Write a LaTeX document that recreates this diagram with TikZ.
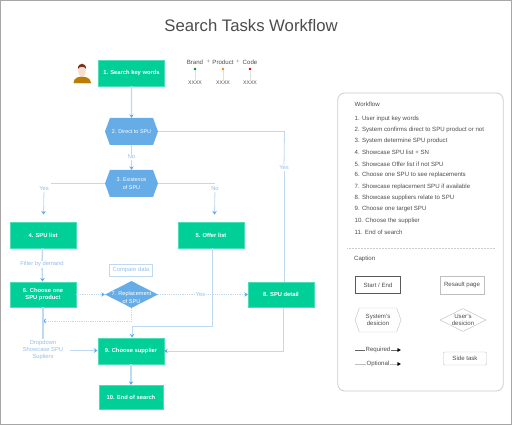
\documentclass[tikz,border=0pt]{standalone}
\usepackage{fontspec}
\setmainfont{Liberation Sans}
\usepackage{xcolor}
\usetikzlibrary{shapes.geometric,shapes.symbols,arrows.meta}
\definecolor{taskgreen}{RGB}{0,207,152}
\definecolor{hexblue}{RGB}{102,173,232}
\definecolor{lineblue}{RGB}{190,218,243}
\definecolor{tipblue}{RGB}{92,168,232}
\definecolor{labelblue}{RGB}{150,190,232}

\begin{document}
\begin{tikzpicture}[
    x=1pt, y=-1pt,
    task/.style={rectangle, fill=taskgreen, draw=taskgreen!70!white, line width=0.4pt, text=white,
        minimum width=66pt, minimum height=25.5pt, inner sep=0pt, align=center,
        font=\fontsize{5.8}{7.4}\selectfont\bfseries},
    hexbox/.style={signal, signal to=west and east, signal pointer angle=140, fill=hexblue, text=white,
        minimum width=53pt, minimum height=27pt, inner sep=0pt, align=center,
        font=\fontsize{5.4}{7.2}\selectfont},
    choice/.style={diamond, fill=hexblue, minimum width=53pt, minimum height=27pt, inner sep=0pt},
    arr/.style={lineblue, line width=0.8pt, -{Stealth[length=3.5pt,width=4.5pt,color=tipblue]}},
    fatarr/.style={arr, line width=1.4pt},
    optarr/.style={arr, densely dotted},
    plain/.style={lineblue, line width=0.8pt},
    tag/.style={fill=white, text=labelblue, inner sep=0.8pt, align=center,
        font=\fontsize{5.8}{7.2}\selectfont},
    note/.style={text=black!70, inner sep=0pt, font=\fontsize{6.1}{7.4}\selectfont},
    legendbox/.style={draw=black!25, text=black!70, inner sep=0pt, align=center,
        font=\fontsize{6.1}{7.4}\selectfont},
    pin/.style={circle, inner sep=0pt, minimum size=2.6pt}
]
    \useasboundingbox (0,0) rectangle (512,425);
    \node[draw=black!35, line width=0.9pt, minimum width=511pt, minimum height=424pt, inner sep=0pt] (frame) at (256,212.5) {};
    \node[text=black!70, font=\fontsize{16.7}{20}\selectfont] (title) at (251,26) {Search Tasks Workflow};

    % user figure
    \fill[fill={rgb,255:red,188;green,125;blue,8}] (73.5,83) .. controls (74,77.5) and (78,77) .. (82,76.5) .. controls (86,77) and (90.5,77.5) .. (91,83) -- cycle;
    \fill[black!12] (73.5,83) rectangle (91,83.6);
    \fill[fill={rgb,255:red,245;green,222;blue,205}] (82,70.5) ellipse (3.8pt and 6.3pt);
    \fill[fill={rgb,255:red,122;green,50;blue,28}] (78,69) .. controls (77.5,62) and (86.5,62) .. (86,69) .. controls (85,66) and (79,66) .. (78,69) -- cycle;

    % tasks
    \node[task] (search) at (131.5,73) {1. Search key words};
    \node[hexbox] (direct) at (131.5,131.5) {2. Direct to SPU};
    \node[hexbox] (exist) at (131.5,183.5) {3. Existence\\of SPU};
    \node[task] (spulist) at (43,235) {4. SPU list};
    \node[task] (offer) at (211,235) {5. Offer list};
    \node[task] (chooseone) at (43,294.5) {6. Choose one\\SPU product};
    \node[choice, label={[text=white, align=center, yshift=-3pt, font=\fontsize{5.6}{7.4}\selectfont]center:7. Replacement\\of SPU}] (replace) at (131.5,294.5) {};
    \node[task] (detail) at (281,294.5) {8. SPU detail};
    \node[task] (supplier) at (131,351) {9. Choose supplier};
    \node[task, minimum width=64pt, minimum height=24pt] (finish) at (131,397) {10. End of search};
    \node[tag, draw=lineblue, minimum width=43pt, minimum height=12.5pt, inner sep=0pt] (compare) at (131,270) {Compare data};
    \node[tag] (dropdown) at (43,350) {Dropdown\\Showcase SPU\\Supliers};
    \node[tag] (no1) at (131.5,157) {No};
    \node[tag] (yes1) at (44,189) {Yes};
    \node[tag] (no2) at (215,189) {No};
    \node[tag] (yes2) at (284,168) {Yes};
    \node[tag] (filter) at (42,264.5) {Filter by demand};
    \node[tag] (yes3) at (200.5,294.5) {Yes};

    % connector corners
    \coordinate (yesleft) at (51,183.5);
    \coordinate (noright) at (215,183.5);
    \coordinate (yestip) at (43.5,214.5);
    \coordinate (notip) at (214.5,214.5);
    \coordinate (yesdown) at (284.5,131.5);
    \coordinate (offerout) at (212.5,248);
    \coordinate (offerturn) at (212.5,326);
    \coordinate (supin) at (132,326);
    \coordinate (suptip) at (132,337.5);
    \coordinate (backturn) at (131.5,321);
    \coordinate (backend) at (42.5,321);
    \coordinate (dropout) at (70,350.5);
    \coordinate (dropin) at (97.5,350.5);
    \coordinate (detailout) at (283.5,307.5);
    \coordinate (detailturn) at (283.5,351);

    \draw[fatarr] (search) -- (direct);
    \draw[plain] (direct) -- (no1);
    \draw[arr] (no1) -- (exist);
    \draw[plain] (exist.west) -- (yesleft);
    \draw[arr] (yes1) -- (yestip);
    \draw[plain] (exist.east) -- (noright);
    \draw[arr] (no2) -- (notip);
    \draw[plain] (direct.east) -- (yesdown) -- (yes2);
    \draw[plain] (yes2) -- (detail.north -| yes2);
    \draw[fatarr, -] (spulist) -- (filter);
    \draw[fatarr] (filter) -- (chooseone);
    \draw[optarr] (chooseone) -- (replace);
    \draw[optarr, -] (replace) -- (yes3);
    \draw[optarr] (yes3) -- (detail);
    \draw[plain] (offerout) -- (offerturn) -- (supin);
    \draw[arr] (supin) -- (suptip);
    \draw[optarr] (replace.south) -- (backturn) -- (backend);
    \draw[fatarr, -] (chooseone.south -| dropdown) -- (dropdown.north);
    \draw[arr] (dropout) -- (dropin);
    \draw[arr] (detailout) -- (detailturn) -- (supplier);
    \draw[fatarr] (supplier) -- (finish);

    % brand product code
    \node[note] (brand) at (195,62) {Brand};
    \node[note, text=black!45] (plus1) at (208.5,62) {+};
    \node[note] (product) at (223,62) {Product};
    \node[note, text=black!45] (plus2) at (238,62) {+};
    \node[note] (code) at (250,62) {Code};
    \node[pin, fill=green!55!black] (pina) at (195,69) {};
    \node[pin, fill=orange] (pinb) at (223,69) {};
    \node[pin, fill=red!80!black] (pinc) at (250,69) {};
    \node[note, font=\fontsize{5.2}{7}\selectfont] (xa) at (195,82.5) {XXXX};
    \node[note, font=\fontsize{5.2}{7}\selectfont] (xb) at (223,82.5) {XXXX};
    \node[note, font=\fontsize{5.2}{7}\selectfont] (xc) at (250,82.5) {XXXX};
    \draw[black!12, line width=0.5pt] (pina) -- (xa.north);
    \draw[black!12, line width=0.5pt] (pinb) -- (xb.north);
    \draw[black!12, line width=0.5pt] (pinc) -- (xc.north);

    % legend panel
    \node[draw=black!20, line width=0.8pt, rounded corners=7pt, minimum width=165.5pt, minimum height=298pt, inner sep=0pt] (panel) at (420.5,242) {};
    \node[note, anchor=west] (wftitle) at (354.5,104.5) {Workflow};
    \foreach \txt [count=\i] in {1. User input key words,
        2. System confirms direct to SPU product or not,
        3. System determine SPU product,
        4. Showcase SPU list + SN,
        5. Showcase Offer list if not SPU,
        6. Choose one SPU to see replacements,
        7. Showcase replacement SPU if available,
        8. Showcase suppliers relate to SPU,
        9. Choose one target SPU,
        10. Choose the supplier,
        11. End of search}
        \node[note, anchor=west] (wf\i) at (354.5,{118.5+(\i-1)*11.36}) {\txt};
    \coordinate (divl) at (347,248);
    \coordinate (divr) at (495,248);
    \draw[black!20, line width=0.5pt, densely dotted] (divl) -- (divr);
    \node[note, anchor=west] (captitle) at (354,259) {Caption};

    \node[legendbox, draw=black!65, line width=0.9pt, minimum width=45.5pt, minimum height=17pt] (startend) at (378,285) {Start / End};
    \node[legendbox, minimum width=44pt, minimum height=18pt] (result) at (462,285) {Resault page};
    \node[legendbox, signal, signal to=west and east, signal pointer angle=140, minimum width=46pt, minimum height=24pt] (syslegend) at (378,320) {System's\\desicion};
    \node[legendbox, diamond, minimum width=46pt, minimum height=23pt, label={[text=black!70, align=center, font=\fontsize{6.1}{7.4}\selectfont]center:User's\\desicion}] (userlegend) at (463,320) {};
    \node[legendbox, rounded corners=1pt, minimum width=43pt, minimum height=13pt] (side) at (465,358.5) {Side task};

    \coordinate (reqa) at (355,350);
    \coordinate (reqb) at (401,350);
    \coordinate (opta) at (355,364);
    \coordinate (optb) at (401,364);
    \draw[black!60, line width=0.4pt, -{Latex[length=3.5pt,width=4pt,color=black]}] (reqa) -- node[note, fill=white, inner sep=0.5pt] (reqlabel) {Required} (reqb);
    \draw[black!25, line width=0.4pt, -{Latex[length=3.5pt,width=4pt,color=black]}] (opta) -- node[note, fill=white, inner sep=0.5pt] (optlabel) {Optional} (optb);
\end{tikzpicture}
\end{document}
